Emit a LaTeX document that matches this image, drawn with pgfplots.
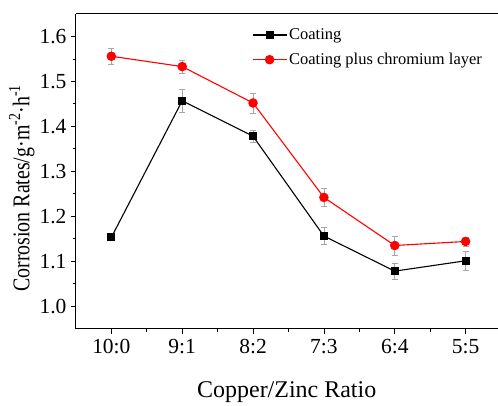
\documentclass[border=0pt]{standalone}
\usepackage{fontspec}
\setmainfont{Liberation Serif}
\usepackage{graphicx}
\usepackage{pgfplots}
\pgfplotsset{compat=1.18}
\begin{document}
\begin{tikzpicture}
\begin{axis}[
  scale only axis, width=422pt, height=315pt,
  xmin=-0.5, xmax=5.45, ymin=0.95, ymax=1.65,
  axis x line*=bottom, axis y line*=left,
  axis line style={line width=1pt},
  clip=false,
  tick align=outside,
  major tick length=5pt, minor tick length=3pt,
  tick style={black, line width=0.8pt},
  xtick={0,1,2,3,4,5},
  xticklabels={10:0,9:1,8:2,7:3,6:4,5:5},
  minor xtick={0.5,1.5,2.5,3.5,4.5},
  ytick={1.0,1.1,1.2,1.3,1.4,1.5,1.6},
  minor ytick={1.05,1.15,1.25,1.35,1.45,1.55},
  yticklabel style={xshift=-1pt, /pgf/number format/.cd, fixed, fixed zerofill, precision=1, assume math mode=true},
  ticklabel style={font=\fontsize{21.5}{24}\selectfont},
  xticklabel style={yshift=-2pt},
  xlabel={Copper/Zinc Ratio},
  ylabel={\scalebox{0.83}[1]{Corrosion Rates/g·m\textsuperscript{-2}·h\textsuperscript{-1}}},
  label style={font=\fontsize{24}{28}\selectfont},
  xlabel style={at={(rel axis cs:0.5,0)}, anchor=north, yshift=-49pt},
  ylabel style={at={(rel axis cs:0,0.5)}, anchor=south, yshift=38pt, xshift=-17pt},
  legend style={at={(0.415,0.963)}, anchor=north west, draw=none, fill=none,
    font=\fontsize{16.5}{19}\selectfont, row sep=8pt, inner sep=1pt},
  legend cell align=left,
  legend image code/.code={\draw[mark repeat=2,mark phase=2,#1] plot coordinates {(0pt,0pt)(17pt,0pt)(34pt,0pt)};},
  error bars/y dir=both, error bars/y explicit,
  error bars/error bar style={gray!70, line width=0.6pt},
  error bars/error mark options={gray!70, rotate=90, mark size=3pt, line width=0.6pt},
]
\addplot[black, line width=1.1pt, mark=square*, mark size=3.5pt] table[x=x, y=y, y error=e] {
x y e
0 1.153 0.007
1 1.457 0.025
2 1.378 0.013
3 1.156 0.019
4 1.078 0.018
5 1.101 0.021
};
\addlegendentry{Coating}
\addplot[red, line width=1.1pt, mark=*, mark size=4.2pt] table[x=x, y=y, y error=e] {
x y e
0 1.556 0.017
1 1.533 0.015
2 1.452 0.022
3 1.242 0.020
4 1.135 0.021
5 1.144 0.010
};
\addlegendentry{Coating plus chromium layer}
\draw[line width=1pt] (rel axis cs:0,1) -- (rel axis cs:1,1);
\path (rel axis cs:0,0) ++(-76pt,-73pt) coordinate (bl);
\path (rel axis cs:1,1) ++(0pt,14pt) coordinate (tr);
\path (bl) rectangle (tr);
\end{axis}
\end{tikzpicture}
\end{document}
